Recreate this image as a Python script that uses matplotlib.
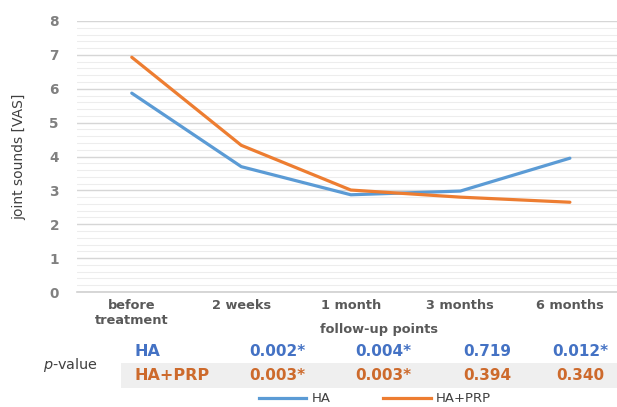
import matplotlib
matplotlib.use("Agg")
import matplotlib.pyplot as plt
from matplotlib.patches import Rectangle
from matplotlib.lines import Line2D

plt.rcParams['font.family'] = ['DejaVu Sans']

categories = ["before\ntreatment", "2 weeks", "1 month", "3 months", "6 months"]
ha_vas = [5.87, 3.70, 2.87, 2.98, 3.95]
ha_prp_vas = [6.93, 4.33, 3.01, 2.80, 2.65]

p_ha = ["0.002*", "0.004*", "0.719", "0.012*"]
p_ha_prp = ["0.003*", "0.003*", "0.394", "0.340"]

blue = "#5B9BD5"
orange = "#ED7D31"
blue_txt = "#4472C4"
orange_txt = "#CD6A2C"

W, H = 617, 407
fig = plt.figure(figsize=(W / 100, H / 100), dpi=100)

# axes box in pixel coords
left, right, top, bottom = 77, 617, 21, 292
ax = fig.add_axes([left / W, 1 - bottom / H, (right - left) / W, (bottom - top) / H])

x = list(range(len(categories)))
ax.plot(x, ha_vas, color=blue, lw=2.3, solid_capstyle='round', zorder=3)
ax.plot(x, ha_prp_vas, color=orange, lw=2.3, solid_capstyle='round', zorder=3)

ax.set_xlim(-0.5, 4.43)
ax.set_ylim(0, 8)
ax.set_yticks(range(0, 9))
ax.set_yticks([i * 0.2 for i in range(41)], minor=True)
ax.grid(axis='y', which='major', color='#d6d6d6', lw=1.0, zorder=0)
ax.grid(axis='y', which='minor', color='#ededed', lw=0.8, zorder=0)
ax.set_axisbelow(True)
for s in ['top', 'right', 'left']:
    ax.spines[s].set_visible(False)
ax.spines['bottom'].set_color('#d0d0d0')
ax.spines['bottom'].set_linewidth(1.2)

ax.set_xticks(x)
ax.set_xticklabels(categories, fontsize=9.3, fontweight='bold', color='#595959', linespacing=1.25)
ax.tick_params(axis='x', length=0, pad=5)
ax.tick_params(axis='y', which='both', length=0, pad=13)
for t in ax.get_yticklabels():
    t.set_fontsize(9.8)
    t.set_fontweight('bold')
    t.set_color('#808080')

ax.set_ylabel("joint sounds [VAS]", fontsize=10, color='#404040', labelpad=17)

def fx(px):
    return px / W

def fy(py):
    return 1 - py / H

fig.text(fx(379), fy(330), "follow-up points", fontsize=9.3, fontweight='bold',
         color='#595959', ha='center', va='center')

# p-value table below the axis
fig.patches.append(Rectangle((fx(121), fy(388)), fx(617 - 121), (388 - 363) / H,
                             transform=fig.transFigure, facecolor='#efefef',
                             edgecolor='none', zorder=0))
fig.text(fx(70), fy(365), r"$\it{p}$-value", fontsize=10.4, color='#404040',
         ha='center', va='center')
fig.text(fx(135), fy(352), "HA", fontsize=11.5, fontweight='bold', color=blue_txt,
         ha='left', va='center')
fig.text(fx(135), fy(376), "HA+PRP", fontsize=11.5, fontweight='bold', color=orange_txt,
         ha='left', va='center')
col_x = [277, 383, 487, 580]
for cx, a, b in zip(col_x, p_ha, p_ha_prp):
    fig.text(fx(cx), fy(352), a, fontsize=11, fontweight='bold', color=blue_txt,
             ha='center', va='center')
    fig.text(fx(cx), fy(376), b, fontsize=11, fontweight='bold', color=orange_txt,
             ha='center', va='center')

handles = [Line2D([], [], color=blue, lw=2.3), Line2D([], [], color=orange, lw=2.3)]
fig.legend(handles, ["HA", "HA+PRP"], loc='center', bbox_to_anchor=(fx(375), fy(399)),
           ncol=2, frameon=False, fontsize=9.5, handlelength=3.6, handletextpad=0.4,
           columnspacing=4.0, labelcolor='#404040', borderpad=0)

fig.savefig("out.png", dpi=100)
